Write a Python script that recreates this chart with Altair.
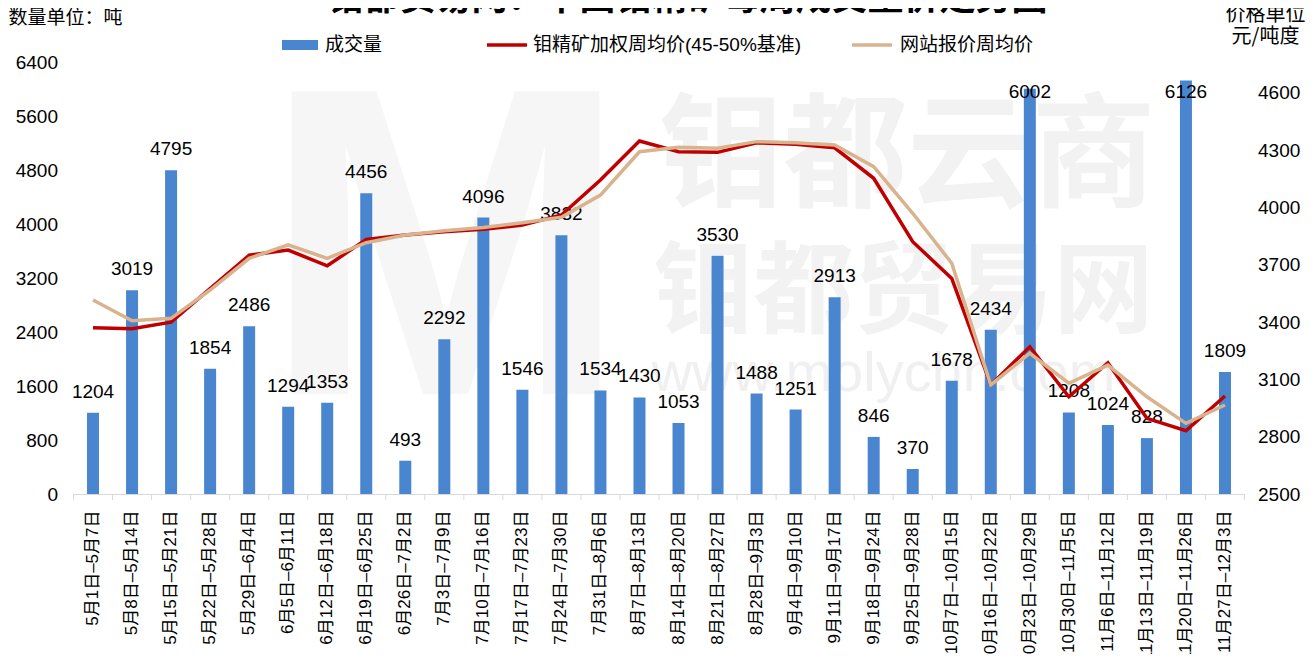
import altair as alt
import pandas as pd

weeks = ["5月1日–5月7日", "5月8日–5月14日", "5月15日–5月21日", "5月22日–5月28日",
         "5月29日–6月4日", "6月5日–6月11日", "6月12日–6月18日", "6月19日–6月25日",
         "6月26日–7月2日", "7月3日–7月9日", "7月10日–7月16日", "7月17日–7月23日",
         "7月24日–7月30日", "7月31日–8月6日", "8月7日–8月13日", "8月14日–8月20日",
         "8月21日–8月27日", "8月28日–9月3日", "9月4日–9月10日", "9月11日–9月17日",
         "9月18日–9月24日", "9月25日–9月28日", "10月7日–10月15日", "10月16日–10月22日",
         "10月23日–10月29日", "10月30日–11月5日", "11月6日–11月12日", "11月13日–11月19日",
         "11月20日–11月26日", "11月27日–12月3日"]

volume = [1204, 3019, 4795, 1854, 2486, 1294, 1353, 4456, 493, 2292, 4096, 1546, 3832, 1534, 1430,
          1053, 3530, 1488, 1251, 2913, 846, 370, 1678, 2434, 6002, 1208, 1024, 828, 6126, 1809]

weighted_price = [3370, 3365, 3400, 3575, 3750, 3777, 3695, 3833, 3856, 3873, 3886, 3908, 3961, 4144, 4348,
                  4292, 4289, 4339, 4331, 4313, 4153, 3821, 3629, 3071, 3271, 3009, 3187, 2896, 2831, 3013]

site_price = [3516, 3407, 3420, 3568, 3734, 3804, 3734, 3816, 3856, 3879, 3896, 3920, 3949, 4065, 4292,
              4315, 4310, 4345, 4339, 4327, 4214, 3970, 3708, 3071, 3237, 3080, 3175, 3009, 2870, 2966]

left_ticks = [0, 800, 1600, 2400, 3200, 4000, 4800, 5600, 6400]
right_ticks = [2500, 2800, 3100, 3400, 3700, 4000, 4300, 4600]

title_text = "钼都贸易网：中国钼精矿每周成交量价走势图"
legend_labels = ["成交量", "钼精矿加权周均价(45-50%基准)", "网站报价周均价"]

FONT = "Liberation Sans, Noto Sans CJK SC, sans-serif"
CJK = "Noto Sans CJK SC, sans-serif"
BAR = "#4A86CF"
RED = "#C00000"
TAN = "#D9B28E"
GRID = "#d9d9d9"
W, H = 1171, 432

df = pd.DataFrame({"week": weeks, "volume": volume,
                   "weighted": weighted_price, "site": site_price})
one = pd.DataFrame({"a": [0]})

xscale = alt.Scale(domain=weeks, paddingInner=0, paddingOuter=0)
xaxis = alt.Axis(title=None, labelAngle=-90, labelFontSize=17, labelFont=FONT,
                 labelColor="#000000", ticks=False, domain=True, domainColor=GRID,
                 domainWidth=1, labelPadding=16, labelLimit=300, labelOverlap=False,
                 grid=False)
leftaxis = alt.Axis(title=None, values=left_ticks, format="d", labelFontSize=19,
                    labelFont=FONT, labelColor="#000000", domain=False,
                    ticks=False, grid=False, labelPadding=16)
rightaxis = alt.Axis(title=None, orient="right", values=right_ticks, format="d",
                     labelFontSize=19, labelFont=FONT, labelColor="#000000", domain=False,
                     ticks=False, grid=False, labelPadding=13)

yleft = alt.Scale(domain=[0, 6400], nice=False, zero=True)
yright = alt.Scale(domain=[2500, 4762], nice=False, zero=False)

x_mid = alt.X("week:N", sort=weeks, scale=xscale, axis=xaxis)
x_edge = alt.X("week:N", sort=weeks, scale=xscale, axis=xaxis, bandPosition=0)

base = alt.Chart(df)

bars = base.mark_bar(color=BAR, size=12).encode(
    x=x_mid,
    y=alt.Y("volume:Q", scale=yleft, axis=leftaxis),
)

ticks = base.mark_rule(color=GRID, strokeWidth=1).encode(
    x=x_edge, y=alt.value(H), y2=alt.value(H + 6),
)

labels = base.transform_calculate(ly="min(datum.volume, 5650)").mark_text(
    fontSize=19, font=FONT, color="#000000", baseline="alphabetic", dy=-15
).encode(
    x=x_mid,
    y=alt.Y("ly:Q", scale=yleft, axis=leftaxis),
    text=alt.Text("volume:Q", format="d"),
)

left = alt.layer(ticks, bars, labels)

red_line = base.mark_line(color=RED, strokeWidth=3.5).encode(
    x=x_mid,
    y=alt.Y("weighted:Q", scale=yright, axis=rightaxis),
)
tan_line = base.mark_line(color=TAN, strokeWidth=3.5).encode(
    x=x_mid,
    y=alt.Y("site:Q", scale=yright, axis=rightaxis),
)
right = alt.layer(red_line, tan_line)

dec = alt.Chart(one)

end_tick = dec.mark_rule(color=GRID, strokeWidth=1).encode(
    x=alt.value(W), y=alt.value(H), y2=alt.value(H + 6))

# faint watermark
wm_m = dec.mark_text(text="M", fontSize=440, font="Liberation Sans", fontWeight="bold",
                     color="#f6f6f6", align="center", baseline="middle").encode(
    x=alt.value(372), y=alt.value(200))
wm1 = dec.mark_text(text="钼都云商", fontSize=124, font=CJK, fontWeight="bold",
                    color="#f2f2f2", align="center", baseline="middle").encode(
    x=alt.value(834), y=alt.value(98))
wm2 = dec.mark_text(text="钼都贸易网", fontSize=100, font=CJK, fontWeight="bold",
                    color="#f2f2f2", align="center", baseline="middle").encode(
    x=alt.value(830), y=alt.value(233))
wm3 = dec.mark_text(text="www.molychn.com", fontSize=56, font="Liberation Sans",
                    color="#f0f0f0", align="center", baseline="middle").encode(
    x=alt.value(810), y=alt.value(312))

# titles
title = dec.mark_text(text=title_text, fontSize=36, font=CJK, fontWeight="bold",
                      color="#000000", align="center", baseline="alphabetic").encode(
    x=alt.value(614), y=alt.value(-52))
ltitle = dec.mark_text(text="数量单位：吨", fontSize=19, font=CJK, color="#000000",
                       align="left", baseline="middle").encode(
    x=alt.value(-65), y=alt.value(-44))
rtitle1 = dec.mark_text(text="价格单位", fontSize=20, font=CJK, color="#000000",
                        align="center", baseline="middle").encode(
    x=alt.value(1192), y=alt.value(-47))
rtitle2 = dec.mark_text(text="元/吨度", fontSize=20, font=CJK, color="#000000",
                        align="center", baseline="middle").encode(
    x=alt.value(1192), y=alt.value(-25))

# legend
leg_rect = dec.mark_rect(color=BAR).encode(
    x=alt.value(208.5), x2=alt.value(244.5), y=alt.value(-22), y2=alt.value(-12))
leg_t1 = dec.mark_text(text=legend_labels[0], fontSize=19, font=FONT, color="#000000",
                       align="left", baseline="middle").encode(
    x=alt.value(251.5), y=alt.value(-17))
leg_red = dec.mark_rule(color=RED, strokeWidth=3.5).encode(
    x=alt.value(413.5), x2=alt.value(453.5), y=alt.value(-17))
leg_t2 = dec.mark_text(text=legend_labels[1], fontSize=19, font=FONT, color="#000000",
                       align="left", baseline="middle").encode(
    x=alt.value(459.5), y=alt.value(-17))
leg_tan = dec.mark_rule(color=TAN, strokeWidth=3.5).encode(
    x=alt.value(778.5), x2=alt.value(818.5), y=alt.value(-17))
leg_t3 = dec.mark_text(text=legend_labels[2], fontSize=19, font=FONT, color="#000000",
                       align="left", baseline="middle").encode(
    x=alt.value(826.5), y=alt.value(-17))

chart = alt.layer(
    wm_m, wm1, wm2, wm3, left, right, end_tick,
    title, ltitle, rtitle1, rtitle2,
    leg_rect, leg_t1, leg_red, leg_t2, leg_tan, leg_t3,
).resolve_scale(y="independent").properties(
    width=W, height=H, background="white",
    autosize=alt.AutoSizeParams(type="none"),
    padding={"left": 65.5, "top": 54, "right": 61.5, "bottom": 160},
).configure_view(stroke=None, strokeWidth=0)

chart.save("out.html", embed_options={"renderer": "svg", "actions": False})
